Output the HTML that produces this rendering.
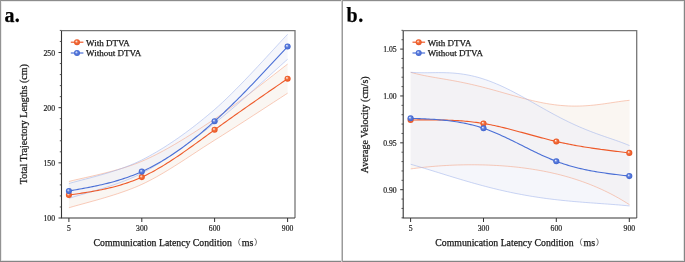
<!DOCTYPE html>
<html><head><meta charset="utf-8"><style>
html,body{margin:0;padding:0;background:#fff;}
body{width:685px;height:262px;overflow:hidden;position:relative;}
svg{position:absolute;left:0;top:0;will-change:transform;}
text{font-family:"Liberation Serif",serif;fill:#1a1a1a;stroke:#1a1a1a;stroke-width:0.25px;}
.tk{font-size:7.7px;stroke-width:0.18px;}
.lg{font-size:9px;}
.ti{font-size:10px;}
.lb{font-size:20px;font-weight:bold;fill:#000;}
</style></head><body>
<svg width="685" height="262" viewBox="0 0 685 262">
<defs>
<radialGradient id="go" cx="0.5" cy="0.5" r="0.5" fx="0.36" fy="0.33"><stop offset="0" stop-color="#fff3ee"/><stop offset="0.12" stop-color="#fcd8c8"/><stop offset="0.45" stop-color="#f1703f"/><stop offset="1" stop-color="#e9521f"/></radialGradient>
<radialGradient id="gb" cx="0.5" cy="0.5" r="0.5" fx="0.36" fy="0.33"><stop offset="0" stop-color="#f3f6fe"/><stop offset="0.12" stop-color="#cfdaf7"/><stop offset="0.45" stop-color="#5d7edc"/><stop offset="1" stop-color="#3e63cf"/></radialGradient>
</defs>
<rect x="0" y="0" width="685" height="262" fill="#fff"/>
<path d="M68.90,181.50 L70.90,180.97 L73.24,180.40 L75.89,179.78 L78.82,179.11 L82.00,178.39 L85.42,177.62 L89.03,176.80 L92.82,175.94 L96.75,175.02 L100.80,174.04 L104.94,173.02 L109.15,171.94 L113.39,170.81 L117.64,169.62 L121.87,168.38 L126.06,167.08 L130.17,165.72 L134.19,164.31 L138.07,162.83 L141.80,161.30 L145.44,159.70 L149.08,158.02 L152.72,156.27 L156.36,154.46 L160.00,152.57 L163.64,150.63 L167.28,148.63 L170.92,146.58 L174.56,144.47 L178.19,142.32 L181.83,140.12 L185.47,137.89 L189.11,135.62 L192.75,133.31 L196.39,130.98 L200.03,128.62 L203.67,126.24 L207.31,123.84 L210.96,121.43 L214.60,119.00 L218.53,116.34 L222.64,113.48 L226.88,110.46 L231.23,107.31 L235.66,104.05 L240.13,100.72 L244.61,97.35 L249.07,93.96 L253.48,90.58 L257.80,87.25 L262.00,83.99 L266.06,80.83 L269.94,77.81 L273.60,74.95 L277.02,72.28 L280.16,69.83 L282.99,67.63 L285.48,65.71 L287.60,64.10 L287.60,93.20 L285.48,94.57 L282.99,96.18 L280.16,98.02 L277.02,100.06 L273.60,102.28 L269.94,104.66 L266.06,107.18 L262.00,109.82 L257.80,112.54 L253.48,115.35 L249.07,118.20 L244.61,121.08 L240.13,123.96 L235.66,126.83 L231.23,129.67 L226.88,132.44 L222.64,135.14 L218.53,137.73 L214.60,140.20 L210.96,142.50 L207.31,144.83 L203.67,147.18 L200.03,149.55 L196.39,151.93 L192.75,154.32 L189.11,156.71 L185.47,159.08 L181.83,161.44 L178.19,163.78 L174.56,166.08 L170.92,168.35 L167.28,170.58 L163.64,172.76 L160.00,174.88 L156.36,176.94 L152.72,178.92 L149.08,180.84 L145.44,182.66 L141.80,184.40 L138.07,186.07 L134.19,187.69 L130.17,189.26 L126.06,190.79 L121.87,192.26 L117.64,193.69 L113.39,195.06 L109.15,196.38 L104.94,197.65 L100.80,198.86 L96.75,200.02 L92.82,201.12 L89.03,202.17 L85.42,203.16 L82.00,204.08 L78.82,204.95 L75.89,205.76 L73.24,206.50 L70.90,207.18 L68.90,207.80 Z" fill="#f8f3ee" fill-opacity="0.75" stroke="none"/>
<path d="M68.90,183.60 L70.90,182.98 L73.24,182.32 L75.89,181.60 L78.82,180.82 L82.00,179.99 L85.42,179.10 L89.03,178.16 L92.82,177.15 L96.75,176.08 L100.80,174.96 L104.94,173.77 L109.15,172.51 L113.39,171.19 L117.64,169.80 L121.87,168.34 L126.06,166.82 L130.17,165.22 L134.19,163.56 L138.07,161.81 L141.80,160.00 L145.44,158.11 L149.08,156.15 L152.72,154.12 L156.36,152.02 L160.00,149.85 L163.64,147.61 L167.28,145.30 L170.92,142.92 L174.56,140.48 L178.19,137.97 L181.83,135.40 L185.47,132.77 L189.11,130.07 L192.75,127.31 L196.39,124.49 L200.03,121.61 L203.67,118.67 L207.31,115.67 L210.96,112.61 L214.60,109.50 L218.53,106.03 L222.64,102.25 L226.88,98.22 L231.23,93.97 L235.66,89.56 L240.13,85.01 L244.61,80.39 L249.07,75.72 L253.48,71.06 L257.80,66.45 L262.00,61.92 L266.06,57.54 L269.94,53.33 L273.60,49.35 L277.02,45.63 L280.16,42.22 L282.99,39.17 L285.48,36.51 L287.60,34.30 L287.60,59.30 L285.48,61.17 L282.99,63.40 L280.16,65.96 L277.02,68.80 L273.60,71.90 L269.94,75.23 L266.06,78.74 L262.00,82.40 L257.80,86.19 L253.48,90.06 L249.07,93.99 L244.61,97.93 L240.13,101.86 L235.66,105.74 L231.23,109.53 L226.88,113.21 L222.64,116.74 L218.53,120.08 L214.60,123.20 L210.96,126.05 L207.31,128.88 L203.67,131.70 L200.03,134.50 L196.39,137.28 L192.75,140.03 L189.11,142.75 L185.47,145.43 L181.83,148.08 L178.19,150.68 L174.56,153.23 L170.92,155.72 L167.28,158.16 L163.64,160.54 L160.00,162.86 L156.36,165.10 L152.72,167.27 L149.08,169.36 L145.44,171.38 L141.80,173.30 L138.07,175.15 L134.19,176.94 L130.17,178.66 L126.06,180.32 L121.87,181.92 L117.64,183.46 L113.39,184.93 L109.15,186.34 L104.94,187.69 L100.80,188.98 L96.75,190.21 L92.82,191.37 L89.03,192.47 L85.42,193.50 L82.00,194.48 L78.82,195.39 L75.89,196.23 L73.24,197.02 L70.90,197.74 L68.90,198.40 Z" fill="#edeff8" fill-opacity="0.55" stroke="none"/>
<path d="M68.90,181.50 L70.90,180.97 L73.24,180.40 L75.89,179.78 L78.82,179.11 L82.00,178.39 L85.42,177.62 L89.03,176.80 L92.82,175.94 L96.75,175.02 L100.80,174.04 L104.94,173.02 L109.15,171.94 L113.39,170.81 L117.64,169.62 L121.87,168.38 L126.06,167.08 L130.17,165.72 L134.19,164.31 L138.07,162.83 L141.80,161.30 L145.44,159.70 L149.08,158.02 L152.72,156.27 L156.36,154.46 L160.00,152.57 L163.64,150.63 L167.28,148.63 L170.92,146.58 L174.56,144.47 L178.19,142.32 L181.83,140.12 L185.47,137.89 L189.11,135.62 L192.75,133.31 L196.39,130.98 L200.03,128.62 L203.67,126.24 L207.31,123.84 L210.96,121.43 L214.60,119.00 L218.53,116.34 L222.64,113.48 L226.88,110.46 L231.23,107.31 L235.66,104.05 L240.13,100.72 L244.61,97.35 L249.07,93.96 L253.48,90.58 L257.80,87.25 L262.00,83.99 L266.06,80.83 L269.94,77.81 L273.60,74.95 L277.02,72.28 L280.16,69.83 L282.99,67.63 L285.48,65.71 L287.60,64.10" fill="none" stroke="#f4a283" stroke-width="0.55"/>
<path d="M68.90,207.80 L70.90,207.18 L73.24,206.50 L75.89,205.76 L78.82,204.95 L82.00,204.08 L85.42,203.16 L89.03,202.17 L92.82,201.12 L96.75,200.02 L100.80,198.86 L104.94,197.65 L109.15,196.38 L113.39,195.06 L117.64,193.69 L121.87,192.26 L126.06,190.79 L130.17,189.26 L134.19,187.69 L138.07,186.07 L141.80,184.40 L145.44,182.66 L149.08,180.84 L152.72,178.92 L156.36,176.94 L160.00,174.88 L163.64,172.76 L167.28,170.58 L170.92,168.35 L174.56,166.08 L178.19,163.78 L181.83,161.44 L185.47,159.08 L189.11,156.71 L192.75,154.32 L196.39,151.93 L200.03,149.55 L203.67,147.18 L207.31,144.83 L210.96,142.50 L214.60,140.20 L218.53,137.73 L222.64,135.14 L226.88,132.44 L231.23,129.67 L235.66,126.83 L240.13,123.96 L244.61,121.08 L249.07,118.20 L253.48,115.35 L257.80,112.54 L262.00,109.82 L266.06,107.18 L269.94,104.66 L273.60,102.28 L277.02,100.06 L280.16,98.02 L282.99,96.18 L285.48,94.57 L287.60,93.20" fill="none" stroke="#f4a283" stroke-width="0.55"/>
<path d="M68.90,183.60 L70.90,182.98 L73.24,182.32 L75.89,181.60 L78.82,180.82 L82.00,179.99 L85.42,179.10 L89.03,178.16 L92.82,177.15 L96.75,176.08 L100.80,174.96 L104.94,173.77 L109.15,172.51 L113.39,171.19 L117.64,169.80 L121.87,168.34 L126.06,166.82 L130.17,165.22 L134.19,163.56 L138.07,161.81 L141.80,160.00 L145.44,158.11 L149.08,156.15 L152.72,154.12 L156.36,152.02 L160.00,149.85 L163.64,147.61 L167.28,145.30 L170.92,142.92 L174.56,140.48 L178.19,137.97 L181.83,135.40 L185.47,132.77 L189.11,130.07 L192.75,127.31 L196.39,124.49 L200.03,121.61 L203.67,118.67 L207.31,115.67 L210.96,112.61 L214.60,109.50 L218.53,106.03 L222.64,102.25 L226.88,98.22 L231.23,93.97 L235.66,89.56 L240.13,85.01 L244.61,80.39 L249.07,75.72 L253.48,71.06 L257.80,66.45 L262.00,61.92 L266.06,57.54 L269.94,53.33 L273.60,49.35 L277.02,45.63 L280.16,42.22 L282.99,39.17 L285.48,36.51 L287.60,34.30" fill="none" stroke="#9db2ea" stroke-width="0.55"/>
<path d="M68.90,198.40 L70.90,197.74 L73.24,197.02 L75.89,196.23 L78.82,195.39 L82.00,194.48 L85.42,193.50 L89.03,192.47 L92.82,191.37 L96.75,190.21 L100.80,188.98 L104.94,187.69 L109.15,186.34 L113.39,184.93 L117.64,183.46 L121.87,181.92 L126.06,180.32 L130.17,178.66 L134.19,176.94 L138.07,175.15 L141.80,173.30 L145.44,171.38 L149.08,169.36 L152.72,167.27 L156.36,165.10 L160.00,162.86 L163.64,160.54 L167.28,158.16 L170.92,155.72 L174.56,153.23 L178.19,150.68 L181.83,148.08 L185.47,145.43 L189.11,142.75 L192.75,140.03 L196.39,137.28 L200.03,134.50 L203.67,131.70 L207.31,128.88 L210.96,126.05 L214.60,123.20 L218.53,120.08 L222.64,116.74 L226.88,113.21 L231.23,109.53 L235.66,105.74 L240.13,101.86 L244.61,97.93 L249.07,93.99 L253.48,90.06 L257.80,86.19 L262.00,82.40 L266.06,78.74 L269.94,75.23 L273.60,71.90 L277.02,68.80 L280.16,65.96 L282.99,63.40 L285.48,61.17 L287.60,59.30" fill="none" stroke="#9db2ea" stroke-width="0.55"/>
<path d="M68.90,195.00 L70.72,194.74 L72.55,194.48 L74.37,194.23 L76.19,193.96 L78.01,193.70 L79.84,193.43 L81.66,193.16 L83.48,192.88 L85.30,192.60 L87.12,192.31 L88.95,192.01 L90.77,191.71 L92.59,191.40 L94.42,191.07 L96.24,190.74 L98.06,190.40 L99.88,190.05 L101.71,189.68 L103.53,189.30 L105.35,188.91 L107.17,188.50 L109.00,188.08 L110.82,187.64 L112.64,187.19 L114.46,186.71 L116.29,186.22 L118.11,185.72 L119.93,185.19 L121.75,184.64 L123.58,184.07 L125.40,183.49 L127.22,182.87 L129.04,182.24 L130.87,181.58 L132.69,180.90 L134.51,180.19 L136.33,179.46 L138.16,178.70 L139.98,177.91 L141.80,177.10 L143.62,176.26 L145.44,175.39 L147.26,174.49 L149.08,173.57 L150.90,172.62 L152.72,171.65 L154.54,170.66 L156.36,169.64 L158.18,168.60 L160.00,167.54 L161.82,166.46 L163.64,165.35 L165.46,164.23 L167.28,163.09 L169.10,161.94 L170.92,160.77 L172.74,159.58 L174.56,158.38 L176.38,157.16 L178.20,155.93 L180.02,154.69 L181.84,153.43 L183.66,152.17 L185.48,150.90 L187.30,149.61 L189.12,148.32 L190.94,147.02 L192.76,145.71 L194.58,144.40 L196.40,143.08 L198.22,141.76 L200.04,140.44 L201.86,139.11 L203.68,137.78 L205.50,136.45 L207.32,135.11 L209.14,133.78 L210.96,132.45 L212.78,131.12 L214.60,129.80 L216.47,128.44 L218.34,127.09 L220.22,125.73 L222.09,124.39 L223.96,123.04 L225.83,121.70 L227.70,120.36 L229.57,119.03 L231.45,117.70 L233.32,116.37 L235.19,115.04 L237.06,113.72 L238.93,112.40 L240.81,111.08 L242.68,109.77 L244.55,108.46 L246.42,107.15 L248.29,105.84 L250.16,104.53 L252.04,103.23 L253.91,101.93 L255.78,100.63 L257.65,99.33 L259.52,98.03 L261.39,96.73 L263.27,95.44 L265.14,94.15 L267.01,92.86 L268.88,91.57 L270.75,90.28 L272.63,88.99 L274.50,87.70 L276.37,86.41 L278.24,85.13 L280.11,83.84 L281.98,82.56 L283.86,81.27 L285.73,79.98 L287.60,78.70" fill="none" stroke="#ee5a2a" stroke-width="1.1"/>
<path d="M68.90,191.00 L70.72,190.68 L72.55,190.36 L74.37,190.04 L76.19,189.72 L78.01,189.40 L79.84,189.07 L81.66,188.74 L83.48,188.40 L85.30,188.06 L87.12,187.72 L88.95,187.36 L90.77,187.00 L92.59,186.64 L94.42,186.26 L96.24,185.88 L98.06,185.49 L99.88,185.08 L101.71,184.67 L103.53,184.24 L105.35,183.81 L107.17,183.36 L109.00,182.89 L110.82,182.42 L112.64,181.93 L114.46,181.42 L116.29,180.90 L118.11,180.36 L119.93,179.81 L121.75,179.23 L123.58,178.64 L125.40,178.03 L127.22,177.40 L129.04,176.76 L130.87,176.09 L132.69,175.40 L134.51,174.68 L136.33,173.95 L138.16,173.19 L139.98,172.41 L141.80,171.60 L143.62,170.77 L145.44,169.91 L147.26,169.03 L149.08,168.13 L150.90,167.20 L152.72,166.25 L154.54,165.27 L156.36,164.27 L158.18,163.25 L160.00,162.21 L161.82,161.14 L163.64,160.05 L165.46,158.93 L167.28,157.80 L169.10,156.64 L170.92,155.46 L172.74,154.26 L174.56,153.04 L176.38,151.80 L178.20,150.53 L180.02,149.25 L181.84,147.94 L183.66,146.62 L185.48,145.27 L187.30,143.91 L189.12,142.52 L190.94,141.12 L192.76,139.69 L194.58,138.25 L196.40,136.79 L198.22,135.31 L200.04,133.81 L201.86,132.30 L203.68,130.76 L205.50,129.21 L207.32,127.64 L209.14,126.06 L210.96,124.46 L212.78,122.84 L214.60,121.20 L216.47,119.50 L218.34,117.78 L220.22,116.05 L222.09,114.30 L223.96,112.54 L225.83,110.76 L227.70,108.97 L229.57,107.16 L231.45,105.34 L233.32,103.50 L235.19,101.65 L237.06,99.79 L238.93,97.92 L240.81,96.04 L242.68,94.14 L244.55,92.24 L246.42,90.32 L248.29,88.40 L250.16,86.46 L252.04,84.52 L253.91,82.57 L255.78,80.61 L257.65,78.64 L259.52,76.66 L261.39,74.68 L263.27,72.70 L265.14,70.70 L267.01,68.71 L268.88,66.70 L270.75,64.69 L272.63,62.68 L274.50,60.67 L276.37,58.65 L278.24,56.63 L280.11,54.61 L281.98,52.58 L283.86,50.55 L285.73,48.53 L287.60,46.50" fill="none" stroke="#4a6fd6" stroke-width="1.1"/>
<circle cx="68.9" cy="195.0" r="3.05" fill="url(#go)"/>
<circle cx="141.8" cy="177.1" r="3.05" fill="url(#go)"/>
<circle cx="214.6" cy="129.8" r="3.05" fill="url(#go)"/>
<circle cx="287.6" cy="78.7" r="3.05" fill="url(#go)"/>
<circle cx="68.9" cy="191.0" r="3.05" fill="url(#gb)"/>
<circle cx="141.8" cy="171.6" r="3.05" fill="url(#gb)"/>
<circle cx="214.6" cy="121.2" r="3.05" fill="url(#gb)"/>
<circle cx="287.6" cy="46.5" r="3.05" fill="url(#gb)"/>
<path d="M61.5,30.7 H295.0 V218" fill="none" stroke="#777" stroke-width="1.3"/>
<path d="M61.5,30.7 V218 H295.0" fill="none" stroke="#353535" stroke-width="1.1"/>
<line x1="58.5" y1="218.0" x2="61.5" y2="218.0" stroke="#353535" stroke-width="1"/>
<text x="55.0" y="221.0" text-anchor="end" class="tk">100</text>
<line x1="58.5" y1="162.835" x2="61.5" y2="162.835" stroke="#353535" stroke-width="1"/>
<text x="55.0" y="165.835" text-anchor="end" class="tk">150</text>
<line x1="58.5" y1="107.67" x2="61.5" y2="107.67" stroke="#353535" stroke-width="1"/>
<text x="55.0" y="110.67" text-anchor="end" class="tk">200</text>
<line x1="58.5" y1="52.504999999999995" x2="61.5" y2="52.504999999999995" stroke="#353535" stroke-width="1"/>
<text x="55.0" y="55.504999999999995" text-anchor="end" class="tk">250</text>
<line x1="59.8" y1="206.967" x2="61.5" y2="206.967" stroke="#444" stroke-width="0.9"/>
<line x1="59.8" y1="195.934" x2="61.5" y2="195.934" stroke="#444" stroke-width="0.9"/>
<line x1="59.8" y1="184.901" x2="61.5" y2="184.901" stroke="#444" stroke-width="0.9"/>
<line x1="59.8" y1="173.868" x2="61.5" y2="173.868" stroke="#444" stroke-width="0.9"/>
<line x1="59.8" y1="151.80200000000002" x2="61.5" y2="151.80200000000002" stroke="#444" stroke-width="0.9"/>
<line x1="59.8" y1="140.769" x2="61.5" y2="140.769" stroke="#444" stroke-width="0.9"/>
<line x1="59.8" y1="129.736" x2="61.5" y2="129.736" stroke="#444" stroke-width="0.9"/>
<line x1="59.8" y1="118.703" x2="61.5" y2="118.703" stroke="#444" stroke-width="0.9"/>
<line x1="59.8" y1="96.637" x2="61.5" y2="96.637" stroke="#444" stroke-width="0.9"/>
<line x1="59.8" y1="85.60400000000001" x2="61.5" y2="85.60400000000001" stroke="#444" stroke-width="0.9"/>
<line x1="59.8" y1="74.571" x2="61.5" y2="74.571" stroke="#444" stroke-width="0.9"/>
<line x1="59.8" y1="63.53800000000001" x2="61.5" y2="63.53800000000001" stroke="#444" stroke-width="0.9"/>
<line x1="59.8" y1="41.47200000000001" x2="61.5" y2="41.47200000000001" stroke="#444" stroke-width="0.9"/>
<line x1="59.8" y1="30.43900000000002" x2="61.5" y2="30.43900000000002" stroke="#444" stroke-width="0.9"/>
<line x1="68.9" y1="218" x2="68.9" y2="222" stroke="#333" stroke-width="1"/>
<text x="68.9" y="231.0" text-anchor="middle" class="tk">5</text>
<line x1="141.8" y1="218" x2="141.8" y2="222" stroke="#333" stroke-width="1"/>
<text x="141.8" y="231.0" text-anchor="middle" class="tk">300</text>
<line x1="214.6" y1="218" x2="214.6" y2="222" stroke="#333" stroke-width="1"/>
<text x="214.6" y="231.0" text-anchor="middle" class="tk">600</text>
<line x1="287.6" y1="218" x2="287.6" y2="222" stroke="#333" stroke-width="1"/>
<text x="287.6" y="231.0" text-anchor="middle" class="tk">900</text>
<line x1="70.8" y1="42.2" x2="83.4" y2="42.2" stroke="#ee5a2a" stroke-width="1.2"/>
<circle cx="77" cy="42.2" r="3" fill="url(#go)"/>
<text x="86.0" y="45.6" class="lg">With DTVA</text>
<line x1="70.8" y1="53" x2="83.4" y2="53" stroke="#4a6fd6" stroke-width="1.2"/>
<circle cx="77" cy="53" r="3" fill="url(#gb)"/>
<text x="86.0" y="56.4" class="lg">Without DTVA</text>
<text transform="translate(27.0,124.2) rotate(-90)" text-anchor="middle" class="ti">Total Trajectory Lengths (cm)</text>
<text x="93.6" y="245.8" class="ti" textLength="138.3" lengthAdjust="spacingAndGlyphs">Communication Latency Condition</text>
<path d="M240.3,238.4 Q237.0,242 240.3,245.8" fill="none" stroke="#666" stroke-width="0.9"/>
<text x="241.8" y="245.8" class="ti">ms</text>
<path d="M254.8,238.3 Q258.1,242 254.9,245.8" fill="none" stroke="#666" stroke-width="0.9"/>
<text x="4.6" y="22.4" class="lb" letter-spacing="0.2">a.</text>
<path d="M410.70,72.29 L413.47,73.07 L416.24,73.78 L419.01,74.44 L421.78,75.04 L424.55,75.61 L427.32,76.15 L430.09,76.66 L432.86,77.15 L435.63,77.63 L438.40,78.10 L441.17,78.57 L443.94,79.04 L446.71,79.52 L449.47,80.00 L452.24,80.50 L455.01,81.01 L457.78,81.53 L460.55,82.08 L463.32,82.64 L466.09,83.22 L468.86,83.83 L471.63,84.45 L474.40,85.10 L477.17,85.76 L479.94,86.44 L482.71,87.14 L485.48,87.86 L488.25,88.60 L491.02,89.34 L493.79,90.10 L496.56,90.87 L499.33,91.65 L502.10,92.44 L504.87,93.22 L507.64,94.01 L510.41,94.79 L513.18,95.57 L515.95,96.34 L518.72,97.10 L521.48,97.85 L524.25,98.58 L527.02,99.29 L529.79,99.98 L532.56,100.65 L535.33,101.29 L538.10,101.89 L540.87,102.47 L543.64,103.01 L546.41,103.51 L549.18,103.97 L551.95,104.39 L554.72,104.77 L557.49,105.10 L560.26,105.39 L563.03,105.62 L565.80,105.82 L568.57,105.96 L571.34,106.05 L574.11,106.10 L576.88,106.09 L579.65,106.04 L582.42,105.94 L585.19,105.80 L587.96,105.62 L590.73,105.39 L593.49,105.12 L596.26,104.82 L599.03,104.49 L601.80,104.13 L604.57,103.75 L607.34,103.34 L610.11,102.93 L612.88,102.51 L615.65,102.09 L618.42,101.69 L621.19,101.29 L623.96,100.92 L626.73,100.59 L629.50,100.30 L629.50,204.70 L626.73,202.95 L623.96,201.25 L621.19,199.60 L618.42,198.01 L615.65,196.47 L612.88,194.98 L610.11,193.54 L607.34,192.15 L604.57,190.81 L601.80,189.51 L599.03,188.26 L596.26,187.05 L593.49,185.89 L590.73,184.76 L587.96,183.68 L585.19,182.64 L582.42,181.64 L579.65,180.67 L576.88,179.74 L574.11,178.85 L571.34,178.00 L568.57,177.17 L565.80,176.38 L563.03,175.63 L560.26,174.90 L557.49,174.21 L554.72,173.55 L551.95,172.91 L549.18,172.31 L546.41,171.73 L543.64,171.18 L540.87,170.66 L538.10,170.16 L535.33,169.69 L532.56,169.25 L529.79,168.83 L527.02,168.43 L524.25,168.05 L521.48,167.70 L518.72,167.37 L515.95,167.06 L513.18,166.77 L510.41,166.51 L507.64,166.26 L504.87,166.04 L502.10,165.83 L499.33,165.64 L496.56,165.48 L493.79,165.33 L491.02,165.20 L488.25,165.08 L485.48,164.99 L482.71,164.91 L479.94,164.85 L477.17,164.81 L474.40,164.79 L471.63,164.78 L468.86,164.79 L466.09,164.81 L463.32,164.86 L460.55,164.92 L457.78,164.99 L455.01,165.09 L452.24,165.20 L449.47,165.32 L446.71,165.47 L443.94,165.63 L441.17,165.80 L438.40,166.00 L435.63,166.21 L432.86,166.44 L430.09,166.69 L427.32,166.95 L424.55,167.23 L421.78,167.53 L419.01,167.85 L416.24,168.19 L413.47,168.55 L410.70,168.93 Z" fill="#f8f3ee" fill-opacity="0.75" stroke="none"/>
<path d="M410.70,72.27 L413.47,72.49 L416.24,72.64 L419.01,72.73 L421.78,72.76 L424.55,72.77 L427.32,72.74 L430.09,72.71 L432.86,72.67 L435.63,72.64 L438.40,72.62 L441.17,72.63 L443.94,72.66 L446.71,72.74 L449.47,72.85 L452.24,73.01 L455.01,73.23 L457.78,73.50 L460.55,73.82 L463.32,74.21 L466.09,74.66 L468.86,75.18 L471.63,75.76 L474.40,76.41 L477.17,77.12 L479.94,77.90 L482.71,78.75 L485.48,79.66 L488.25,80.63 L491.02,81.66 L493.79,82.75 L496.56,83.90 L499.33,85.10 L502.10,86.35 L504.87,87.65 L507.64,88.99 L510.41,90.38 L513.18,91.80 L515.95,93.25 L518.72,94.73 L521.48,96.24 L524.25,97.76 L527.02,99.31 L529.79,100.87 L532.56,102.43 L535.33,104.00 L538.10,105.57 L540.87,107.14 L543.64,108.70 L546.41,110.25 L549.18,111.79 L551.95,113.31 L554.72,114.81 L557.49,116.28 L560.26,117.73 L563.03,119.15 L565.80,120.54 L568.57,121.90 L571.34,123.22 L574.11,124.51 L576.88,125.76 L579.65,126.98 L582.42,128.16 L585.19,129.31 L587.96,130.42 L590.73,131.50 L593.49,132.55 L596.26,133.57 L599.03,134.57 L601.80,135.55 L604.57,136.52 L607.34,137.47 L610.11,138.42 L612.88,139.37 L615.65,140.33 L618.42,141.31 L621.19,142.31 L623.96,143.35 L626.73,144.44 L629.50,145.58 L629.50,205.94 L626.73,205.67 L623.96,205.41 L621.19,205.17 L618.42,204.93 L615.65,204.71 L612.88,204.49 L610.11,204.28 L607.34,204.07 L604.57,203.86 L601.80,203.66 L599.03,203.46 L596.26,203.26 L593.49,203.06 L590.73,202.86 L587.96,202.65 L585.19,202.43 L582.42,202.22 L579.65,201.99 L576.88,201.76 L574.11,201.52 L571.34,201.27 L568.57,201.01 L565.80,200.74 L563.03,200.46 L560.26,200.17 L557.49,199.86 L554.72,199.54 L551.95,199.21 L549.18,198.86 L546.41,198.50 L543.64,198.13 L540.87,197.73 L538.10,197.33 L535.33,196.90 L532.56,196.46 L529.79,196.00 L527.02,195.53 L524.25,195.04 L521.48,194.53 L518.72,194.01 L515.95,193.47 L513.18,192.91 L510.41,192.33 L507.64,191.74 L504.87,191.13 L502.10,190.50 L499.33,189.86 L496.56,189.20 L493.79,188.53 L491.02,187.84 L488.25,187.14 L485.48,186.42 L482.71,185.69 L479.94,184.94 L477.17,184.18 L474.40,183.41 L471.63,182.63 L468.86,181.84 L466.09,181.03 L463.32,180.22 L460.55,179.40 L457.78,178.57 L455.01,177.73 L452.24,176.89 L449.47,176.04 L446.71,175.19 L443.94,174.33 L441.17,173.48 L438.40,172.62 L435.63,171.76 L432.86,170.90 L430.09,170.05 L427.32,169.20 L424.55,168.36 L421.78,167.52 L419.01,166.69 L416.24,165.88 L413.47,165.07 L410.70,164.27 Z" fill="#edeff8" fill-opacity="0.55" stroke="none"/>
<path d="M410.70,72.29 L413.47,73.07 L416.24,73.78 L419.01,74.44 L421.78,75.04 L424.55,75.61 L427.32,76.15 L430.09,76.66 L432.86,77.15 L435.63,77.63 L438.40,78.10 L441.17,78.57 L443.94,79.04 L446.71,79.52 L449.47,80.00 L452.24,80.50 L455.01,81.01 L457.78,81.53 L460.55,82.08 L463.32,82.64 L466.09,83.22 L468.86,83.83 L471.63,84.45 L474.40,85.10 L477.17,85.76 L479.94,86.44 L482.71,87.14 L485.48,87.86 L488.25,88.60 L491.02,89.34 L493.79,90.10 L496.56,90.87 L499.33,91.65 L502.10,92.44 L504.87,93.22 L507.64,94.01 L510.41,94.79 L513.18,95.57 L515.95,96.34 L518.72,97.10 L521.48,97.85 L524.25,98.58 L527.02,99.29 L529.79,99.98 L532.56,100.65 L535.33,101.29 L538.10,101.89 L540.87,102.47 L543.64,103.01 L546.41,103.51 L549.18,103.97 L551.95,104.39 L554.72,104.77 L557.49,105.10 L560.26,105.39 L563.03,105.62 L565.80,105.82 L568.57,105.96 L571.34,106.05 L574.11,106.10 L576.88,106.09 L579.65,106.04 L582.42,105.94 L585.19,105.80 L587.96,105.62 L590.73,105.39 L593.49,105.12 L596.26,104.82 L599.03,104.49 L601.80,104.13 L604.57,103.75 L607.34,103.34 L610.11,102.93 L612.88,102.51 L615.65,102.09 L618.42,101.69 L621.19,101.29 L623.96,100.92 L626.73,100.59 L629.50,100.30" fill="none" stroke="#f4a283" stroke-width="0.55"/>
<path d="M410.70,168.93 L413.47,168.55 L416.24,168.19 L419.01,167.85 L421.78,167.53 L424.55,167.23 L427.32,166.95 L430.09,166.69 L432.86,166.44 L435.63,166.21 L438.40,166.00 L441.17,165.80 L443.94,165.63 L446.71,165.47 L449.47,165.32 L452.24,165.20 L455.01,165.09 L457.78,164.99 L460.55,164.92 L463.32,164.86 L466.09,164.81 L468.86,164.79 L471.63,164.78 L474.40,164.79 L477.17,164.81 L479.94,164.85 L482.71,164.91 L485.48,164.99 L488.25,165.08 L491.02,165.20 L493.79,165.33 L496.56,165.48 L499.33,165.64 L502.10,165.83 L504.87,166.04 L507.64,166.26 L510.41,166.51 L513.18,166.77 L515.95,167.06 L518.72,167.37 L521.48,167.70 L524.25,168.05 L527.02,168.43 L529.79,168.83 L532.56,169.25 L535.33,169.69 L538.10,170.16 L540.87,170.66 L543.64,171.18 L546.41,171.73 L549.18,172.31 L551.95,172.91 L554.72,173.55 L557.49,174.21 L560.26,174.90 L563.03,175.63 L565.80,176.38 L568.57,177.17 L571.34,178.00 L574.11,178.85 L576.88,179.74 L579.65,180.67 L582.42,181.64 L585.19,182.64 L587.96,183.68 L590.73,184.76 L593.49,185.89 L596.26,187.05 L599.03,188.26 L601.80,189.51 L604.57,190.81 L607.34,192.15 L610.11,193.54 L612.88,194.98 L615.65,196.47 L618.42,198.01 L621.19,199.60 L623.96,201.25 L626.73,202.95 L629.50,204.70" fill="none" stroke="#f4a283" stroke-width="0.55"/>
<path d="M410.70,72.27 L413.47,72.49 L416.24,72.64 L419.01,72.73 L421.78,72.76 L424.55,72.77 L427.32,72.74 L430.09,72.71 L432.86,72.67 L435.63,72.64 L438.40,72.62 L441.17,72.63 L443.94,72.66 L446.71,72.74 L449.47,72.85 L452.24,73.01 L455.01,73.23 L457.78,73.50 L460.55,73.82 L463.32,74.21 L466.09,74.66 L468.86,75.18 L471.63,75.76 L474.40,76.41 L477.17,77.12 L479.94,77.90 L482.71,78.75 L485.48,79.66 L488.25,80.63 L491.02,81.66 L493.79,82.75 L496.56,83.90 L499.33,85.10 L502.10,86.35 L504.87,87.65 L507.64,88.99 L510.41,90.38 L513.18,91.80 L515.95,93.25 L518.72,94.73 L521.48,96.24 L524.25,97.76 L527.02,99.31 L529.79,100.87 L532.56,102.43 L535.33,104.00 L538.10,105.57 L540.87,107.14 L543.64,108.70 L546.41,110.25 L549.18,111.79 L551.95,113.31 L554.72,114.81 L557.49,116.28 L560.26,117.73 L563.03,119.15 L565.80,120.54 L568.57,121.90 L571.34,123.22 L574.11,124.51 L576.88,125.76 L579.65,126.98 L582.42,128.16 L585.19,129.31 L587.96,130.42 L590.73,131.50 L593.49,132.55 L596.26,133.57 L599.03,134.57 L601.80,135.55 L604.57,136.52 L607.34,137.47 L610.11,138.42 L612.88,139.37 L615.65,140.33 L618.42,141.31 L621.19,142.31 L623.96,143.35 L626.73,144.44 L629.50,145.58" fill="none" stroke="#9db2ea" stroke-width="0.55"/>
<path d="M410.70,164.27 L413.47,165.07 L416.24,165.88 L419.01,166.69 L421.78,167.52 L424.55,168.36 L427.32,169.20 L430.09,170.05 L432.86,170.90 L435.63,171.76 L438.40,172.62 L441.17,173.48 L443.94,174.33 L446.71,175.19 L449.47,176.04 L452.24,176.89 L455.01,177.73 L457.78,178.57 L460.55,179.40 L463.32,180.22 L466.09,181.03 L468.86,181.84 L471.63,182.63 L474.40,183.41 L477.17,184.18 L479.94,184.94 L482.71,185.69 L485.48,186.42 L488.25,187.14 L491.02,187.84 L493.79,188.53 L496.56,189.20 L499.33,189.86 L502.10,190.50 L504.87,191.13 L507.64,191.74 L510.41,192.33 L513.18,192.91 L515.95,193.47 L518.72,194.01 L521.48,194.53 L524.25,195.04 L527.02,195.53 L529.79,196.00 L532.56,196.46 L535.33,196.90 L538.10,197.33 L540.87,197.73 L543.64,198.13 L546.41,198.50 L549.18,198.86 L551.95,199.21 L554.72,199.54 L557.49,199.86 L560.26,200.17 L563.03,200.46 L565.80,200.74 L568.57,201.01 L571.34,201.27 L574.11,201.52 L576.88,201.76 L579.65,201.99 L582.42,202.22 L585.19,202.43 L587.96,202.65 L590.73,202.86 L593.49,203.06 L596.26,203.26 L599.03,203.46 L601.80,203.66 L604.57,203.86 L607.34,204.07 L610.11,204.28 L612.88,204.49 L615.65,204.71 L618.42,204.93 L621.19,205.17 L623.96,205.41 L626.73,205.67 L629.50,205.94" fill="none" stroke="#9db2ea" stroke-width="0.55"/>
<path d="M410.60,120.00 L412.42,119.98 L414.25,119.96 L416.07,119.94 L417.89,119.92 L419.71,119.91 L421.54,119.89 L423.36,119.88 L425.18,119.87 L427.00,119.87 L428.83,119.86 L430.65,119.86 L432.47,119.87 L434.29,119.88 L436.12,119.90 L437.94,119.92 L439.76,119.95 L441.58,119.98 L443.41,120.03 L445.23,120.07 L447.05,120.13 L448.87,120.20 L450.69,120.27 L452.52,120.35 L454.34,120.44 L456.16,120.54 L457.99,120.65 L459.81,120.78 L461.63,120.91 L463.45,121.05 L465.27,121.21 L467.10,121.38 L468.92,121.56 L470.74,121.75 L472.56,121.96 L474.39,122.18 L476.21,122.41 L478.03,122.66 L479.86,122.93 L481.68,123.20 L483.50,123.50 L485.32,123.81 L487.14,124.14 L488.96,124.48 L490.78,124.83 L492.60,125.20 L494.42,125.58 L496.24,125.98 L498.06,126.38 L499.88,126.80 L501.70,127.23 L503.52,127.66 L505.34,128.11 L507.16,128.56 L508.98,129.02 L510.80,129.49 L512.62,129.96 L514.44,130.44 L516.26,130.93 L518.08,131.42 L519.90,131.91 L521.72,132.40 L523.54,132.90 L525.36,133.40 L527.18,133.90 L529.00,134.40 L530.82,134.90 L532.64,135.40 L534.46,135.90 L536.28,136.39 L538.10,136.89 L539.92,137.38 L541.74,137.86 L543.56,138.34 L545.38,138.81 L547.20,139.28 L549.02,139.74 L550.84,140.19 L552.66,140.64 L554.48,141.07 L556.30,141.50 L558.17,141.93 L560.04,142.34 L561.92,142.75 L563.79,143.15 L565.66,143.54 L567.53,143.91 L569.40,144.28 L571.27,144.64 L573.15,144.99 L575.02,145.34 L576.89,145.67 L578.76,146.00 L580.63,146.32 L582.51,146.63 L584.38,146.93 L586.25,147.23 L588.12,147.53 L589.99,147.81 L591.86,148.09 L593.74,148.37 L595.61,148.64 L597.48,148.90 L599.35,149.16 L601.22,149.42 L603.09,149.67 L604.97,149.91 L606.84,150.16 L608.71,150.40 L610.58,150.63 L612.45,150.87 L614.33,151.10 L616.20,151.33 L618.07,151.56 L619.94,151.78 L621.81,152.01 L623.68,152.23 L625.56,152.46 L627.43,152.68 L629.30,152.90" fill="none" stroke="#ee5a2a" stroke-width="1.1"/>
<path d="M410.60,118.30 L412.42,118.37 L414.25,118.43 L416.07,118.50 L417.89,118.57 L419.71,118.64 L421.54,118.72 L423.36,118.80 L425.18,118.89 L427.00,118.98 L428.83,119.07 L430.65,119.18 L432.47,119.29 L434.29,119.41 L436.12,119.54 L437.94,119.68 L439.76,119.83 L441.58,119.99 L443.41,120.16 L445.23,120.34 L447.05,120.54 L448.87,120.75 L450.69,120.97 L452.52,121.22 L454.34,121.47 L456.16,121.74 L457.99,122.04 L459.81,122.34 L461.63,122.67 L463.45,123.02 L465.27,123.38 L467.10,123.77 L468.92,124.18 L470.74,124.61 L472.56,125.06 L474.39,125.54 L476.21,126.04 L478.03,126.57 L479.86,127.12 L481.68,127.70 L483.50,128.30 L485.32,128.93 L487.14,129.59 L488.96,130.27 L490.78,130.98 L492.60,131.70 L494.42,132.45 L496.24,133.22 L498.06,134.01 L499.88,134.82 L501.70,135.64 L503.52,136.47 L505.34,137.32 L507.16,138.18 L508.98,139.05 L510.80,139.94 L512.62,140.83 L514.44,141.72 L516.26,142.62 L518.08,143.53 L519.90,144.44 L521.72,145.35 L523.54,146.26 L525.36,147.18 L527.18,148.08 L529.00,148.99 L530.82,149.89 L532.64,150.79 L534.46,151.68 L536.28,152.55 L538.10,153.42 L539.92,154.28 L541.74,155.13 L543.56,155.96 L545.38,156.78 L547.20,157.58 L549.02,158.37 L550.84,159.13 L552.66,159.88 L554.48,160.60 L556.30,161.30 L558.17,162.00 L560.04,162.67 L561.92,163.32 L563.79,163.94 L565.66,164.54 L567.53,165.12 L569.40,165.68 L571.27,166.22 L573.15,166.73 L575.02,167.23 L576.89,167.71 L578.76,168.17 L580.63,168.61 L582.51,169.04 L584.38,169.45 L586.25,169.84 L588.12,170.22 L589.99,170.59 L591.86,170.94 L593.74,171.28 L595.61,171.60 L597.48,171.92 L599.35,172.22 L601.22,172.51 L603.09,172.80 L604.97,173.07 L606.84,173.34 L608.71,173.59 L610.58,173.84 L612.45,174.09 L614.33,174.33 L616.20,174.56 L618.07,174.79 L619.94,175.01 L621.81,175.23 L623.68,175.45 L625.56,175.67 L627.43,175.89 L629.30,176.10" fill="none" stroke="#4a6fd6" stroke-width="1.1"/>
<circle cx="410.6" cy="120.0" r="3.05" fill="url(#go)"/>
<circle cx="483.5" cy="123.5" r="3.05" fill="url(#go)"/>
<circle cx="556.3" cy="141.5" r="3.05" fill="url(#go)"/>
<circle cx="629.3" cy="152.9" r="3.05" fill="url(#go)"/>
<circle cx="410.6" cy="118.3" r="3.05" fill="url(#gb)"/>
<circle cx="483.5" cy="128.3" r="3.05" fill="url(#gb)"/>
<circle cx="556.3" cy="161.3" r="3.05" fill="url(#gb)"/>
<circle cx="629.3" cy="176.1" r="3.05" fill="url(#gb)"/>
<path d="M403.2,30.7 H636.7 V218" fill="none" stroke="#777" stroke-width="1.3"/>
<path d="M403.2,30.7 V218 H636.7" fill="none" stroke="#353535" stroke-width="1.1"/>
<line x1="400.2" y1="189.69500000000002" x2="403.2" y2="189.69500000000002" stroke="#353535" stroke-width="1"/>
<text x="396.7" y="192.69500000000002" text-anchor="end" class="tk">0.90</text>
<line x1="400.2" y1="142.83000000000007" x2="403.2" y2="142.83000000000007" stroke="#353535" stroke-width="1"/>
<text x="396.7" y="145.83000000000007" text-anchor="end" class="tk">0.95</text>
<line x1="400.2" y1="95.96500000000003" x2="403.2" y2="95.96500000000003" stroke="#353535" stroke-width="1"/>
<text x="396.7" y="98.96500000000003" text-anchor="end" class="tk">1.00</text>
<line x1="400.2" y1="49.1" x2="403.2" y2="49.1" stroke="#353535" stroke-width="1"/>
<text x="396.7" y="52.1" text-anchor="end" class="tk">1.05</text>
<line x1="401.5" y1="217.81400000000002" x2="403.2" y2="217.81400000000002" stroke="#444" stroke-width="0.9"/>
<line x1="401.5" y1="208.44100000000003" x2="403.2" y2="208.44100000000003" stroke="#444" stroke-width="0.9"/>
<line x1="401.5" y1="199.068" x2="403.2" y2="199.068" stroke="#444" stroke-width="0.9"/>
<line x1="401.5" y1="180.322" x2="403.2" y2="180.322" stroke="#444" stroke-width="0.9"/>
<line x1="401.5" y1="170.949" x2="403.2" y2="170.949" stroke="#444" stroke-width="0.9"/>
<line x1="401.5" y1="161.576" x2="403.2" y2="161.576" stroke="#444" stroke-width="0.9"/>
<line x1="401.5" y1="152.2030000000001" x2="403.2" y2="152.2030000000001" stroke="#444" stroke-width="0.9"/>
<line x1="401.5" y1="133.45700000000008" x2="403.2" y2="133.45700000000008" stroke="#444" stroke-width="0.9"/>
<line x1="401.5" y1="124.08400000000006" x2="403.2" y2="124.08400000000006" stroke="#444" stroke-width="0.9"/>
<line x1="401.5" y1="114.71100000000007" x2="403.2" y2="114.71100000000007" stroke="#444" stroke-width="0.9"/>
<line x1="401.5" y1="105.33800000000005" x2="403.2" y2="105.33800000000005" stroke="#444" stroke-width="0.9"/>
<line x1="401.5" y1="86.59200000000004" x2="403.2" y2="86.59200000000004" stroke="#444" stroke-width="0.9"/>
<line x1="401.5" y1="77.21900000000002" x2="403.2" y2="77.21900000000002" stroke="#444" stroke-width="0.9"/>
<line x1="401.5" y1="67.84600000000002" x2="403.2" y2="67.84600000000002" stroke="#444" stroke-width="0.9"/>
<line x1="401.5" y1="58.47300000000001" x2="403.2" y2="58.47300000000001" stroke="#444" stroke-width="0.9"/>
<line x1="401.5" y1="39.72699999999999" x2="403.2" y2="39.72699999999999" stroke="#444" stroke-width="0.9"/>
<line x1="401.5" y1="30.353999999999985" x2="403.2" y2="30.353999999999985" stroke="#444" stroke-width="0.9"/>
<line x1="410.6" y1="218" x2="410.6" y2="222" stroke="#333" stroke-width="1"/>
<text x="410.6" y="231.0" text-anchor="middle" class="tk">5</text>
<line x1="483.5" y1="218" x2="483.5" y2="222" stroke="#333" stroke-width="1"/>
<text x="483.5" y="231.0" text-anchor="middle" class="tk">300</text>
<line x1="556.3" y1="218" x2="556.3" y2="222" stroke="#333" stroke-width="1"/>
<text x="556.3" y="231.0" text-anchor="middle" class="tk">600</text>
<line x1="629.3" y1="218" x2="629.3" y2="222" stroke="#333" stroke-width="1"/>
<text x="629.3" y="231.0" text-anchor="middle" class="tk">900</text>
<line x1="412.5" y1="42.2" x2="425.1" y2="42.2" stroke="#ee5a2a" stroke-width="1.2"/>
<circle cx="418.7" cy="42.2" r="3" fill="url(#go)"/>
<text x="427.7" y="45.6" class="lg">With DTVA</text>
<line x1="412.5" y1="53" x2="425.1" y2="53" stroke="#4a6fd6" stroke-width="1.2"/>
<circle cx="418.7" cy="53" r="3" fill="url(#gb)"/>
<text x="427.7" y="56.4" class="lg">Without DTVA</text>
<text transform="translate(367.5,124.8) rotate(-90)" text-anchor="middle" class="ti">Average Velocity (cm/s)</text>
<text x="435.29999999999995" y="245.8" class="ti" textLength="138.3" lengthAdjust="spacingAndGlyphs">Communication Latency Condition</text>
<path d="M582.0,238.4 Q578.7,242 582.0,245.8" fill="none" stroke="#666" stroke-width="0.9"/>
<text x="583.5" y="245.8" class="ti">ms</text>
<path d="M596.5,238.3 Q599.8,242 596.6,245.8" fill="none" stroke="#666" stroke-width="0.9"/>
<text x="346.6" y="22.4" class="lb" letter-spacing="0.5">b.</text>
<rect x="0" y="0" width="685" height="1" fill="#8c8c8c"/>
<rect x="0" y="1" width="685" height="1" fill="#ebebeb"/>
<rect x="0" y="0" width="1" height="262" fill="#939393"/>
<rect x="1" y="1" width="1" height="260" fill="#ececec"/>
<rect x="684" y="0" width="1" height="262" fill="#858585"/>
<rect x="683" y="1" width="1" height="260" fill="#e4e4e4"/>
<rect x="0" y="261" width="685" height="1" fill="#858585"/>
<rect x="1" y="260" width="683" height="1" fill="#e2e2e2"/>
<rect x="341" y="0" width="1" height="262" fill="#cdcdcd"/>
<rect x="342" y="0" width="1" height="262" fill="#9a9a9a"/>
</svg>
</body></html>
